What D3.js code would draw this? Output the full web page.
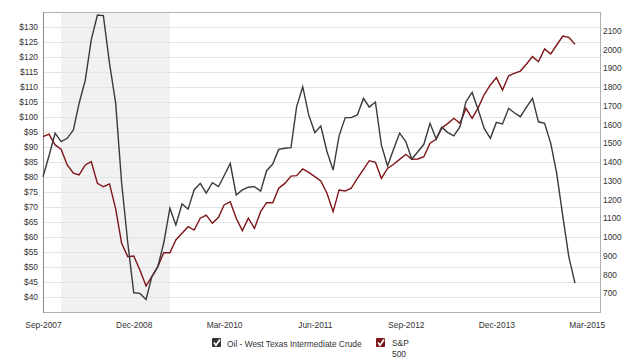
<!DOCTYPE html>
<html>
<head>
<meta charset="utf-8">
<title>Oil vs S&amp;P 500</title>
<script src="https://cdn.jsdelivr.net/npm/d3@7"></script>
<style>
  body { margin: 0; background: #fff; }
  svg { display: block; font-family: "Liberation Sans", Arial, sans-serif; }
  .axis text { font-size: 8.4px; fill: #333; }
  .axis path, .axis line { display: none; }
  .legend text { font-size: 8.4px; fill: #333; }
</style>
</head>
<body>
<script>
// monthly values, Sep-2007 .. Jan-2015
const startMonth = "2007-09";
const oil = [80.1, 87, 94.6, 91.8, 92.9, 95.7, 104.6, 112.3, 125.7, 134,
  133.8, 117.9, 104.6, 78, 58, 41.4, 41.2, 39.2, 46.5, 50,
  58, 69.6, 64, 71, 69.3, 75.7, 77.9, 74.6, 78.1, 76.8,
  80.4, 84.5, 74, 75.7, 76.6, 76.8, 75.3, 82.1, 84.3, 89.2,
  89.6, 89.8, 103.4, 110.1, 100.7, 94.8, 97, 88.5, 82.3, 93.7,
  99.8, 99.8, 100.7, 106.2, 103.3, 105, 90.7, 83.7, 89.2, 94.6,
  91.8, 86, 88.4, 90.9, 97.9, 92.7, 96.6, 94.8, 93.7, 96.8,
  105.1, 108.2, 102.3, 96.2, 92.9, 98.2, 97.7, 102.9, 101.4, 100.1,
  103.2, 106.2, 98.4, 97.9, 91.2, 81.2, 66.8, 53.4, 44.6];
const sp500 = [1535, 1549, 1491, 1468, 1384, 1340, 1331, 1384, 1402, 1286,
  1268, 1283, 1150, 966, 895, 899, 824, 739, 788, 842,
  916, 916, 984, 1020, 1055, 1037, 1100, 1117, 1073, 1105,
  1171, 1188, 1100, 1034, 1100, 1046, 1135, 1183, 1183, 1260,
  1286, 1325, 1327, 1363, 1345, 1322, 1299, 1233, 1135, 1251,
  1245, 1260, 1313, 1361, 1407, 1398, 1313, 1366, 1388, 1414,
  1441, 1414, 1416, 1428, 1500, 1521, 1580, 1606, 1633, 1606,
  1686, 1633, 1690, 1760, 1811, 1850, 1784, 1860, 1873, 1885,
  1921, 1962, 1935, 2003, 1976, 2024, 2072, 2065, 2028];
const xTicks = ["2007-09", "2008-12", "2010-03", "2011-06", "2012-09", "2013-12", "2015-03"];
const recession = ["2007-12", "2009-06"];
const oilTicks = d3.range(40, 131, 5);
const spTicks = d3.range(700, 2101, 100);
const seriesNames = ["Oil - West Texas Intermediate Crude", "S&P", "500"];

const width = 640, height = 362;
const mLeft = 43, mRight = 600, mTop = 12, mBottom = 312;

const parseMonth = d3.timeParse("%Y-%m");
const fmt = d3.timeFormat("%b-%Y");
const start = parseMonth(startMonth);
const months = oil.map((d, i) => d3.timeMonth.offset(start, i));

const svg = d3.select("body").append("svg")
  .attr("width", width).attr("height", height);

const x = d3.scaleTime()
  .domain([start, new Date(2015, 4, 7)])
  .range([mLeft, mRight]);
const yOil = d3.scaleLinear().domain([35, 135]).range([mBottom, mTop]);
const ySp = d3.scaleLinear().domain([600, 2200]).range([mBottom, mTop]);

// recession band
svg.append("rect")
  .attr("x", x(parseMonth(recession[0])))
  .attr("y", mTop)
  .attr("width", x(parseMonth(recession[1])) - x(parseMonth(recession[0])))
  .attr("height", mBottom - mTop)
  .attr("fill", "#f1f1f1");

// gridlines
svg.append("g").selectAll("line")
  .data(oilTicks)
  .enter().append("line")
  .attr("x1", mLeft).attr("x2", mRight)
  .attr("y1", d => Math.round(yOil(d)) + 0.5)
  .attr("y2", d => Math.round(yOil(d)) + 0.5)
  .attr("stroke", "#e4e4e4");

// frame
svg.append("rect")
  .attr("x", mLeft + 0.5).attr("y", mTop + 0.5)
  .attr("width", mRight - mLeft).attr("height", mBottom - mTop)
  .attr("fill", "none").attr("stroke", "#b0b0b0");
svg.append("line")
  .attr("x1", mLeft + 0.5).attr("x2", mLeft + 0.5)
  .attr("y1", mTop).attr("y2", mBottom + 1)
  .attr("stroke", "#888");

// axes
svg.append("g").attr("class", "axis")
  .attr("transform", "translate(" + (mLeft - 2) + ",0)")
  .call(d3.axisLeft(yOil).tickValues(oilTicks).tickSize(0).tickFormat(d => "$" + d));

svg.append("g").attr("class", "axis")
  .attr("transform", "translate(" + mRight + ",0)")
  .call(d3.axisRight(ySp).tickValues(spTicks).tickSize(0).tickFormat(d3.format("d")));

svg.append("g").attr("class", "axis")
  .attr("transform", "translate(0," + (mBottom + 7) + ")")
  .call(d3.axisBottom(x).tickValues(xTicks.map(parseMonth)).tickSize(0).tickFormat(fmt));

// lines
const oilLine = d3.line().x((d, i) => x(months[i])).y(d => yOil(d));
const spLine = d3.line().x((d, i) => x(months[i])).y(d => ySp(d));

svg.append("path").datum(sp500)
  .attr("d", spLine)
  .attr("fill", "none").attr("stroke", "#7d1417").attr("stroke-width", 1.4);

svg.append("path").datum(oil)
  .attr("d", oilLine)
  .attr("fill", "none").attr("stroke", "#3a3a3a").attr("stroke-width", 1.4);

// legend
const legend = svg.append("g").attr("class", "legend");
function checkbox(px, py, color) {
  legend.append("rect")
    .attr("x", px).attr("y", py).attr("width", 9).attr("height", 9)
    .attr("rx", 1).attr("fill", color);
  legend.append("path")
    .attr("d", "M" + (px + 2) + "," + (py + 4.5) + " L" + (px + 4) + "," + (py + 7.2) +
      " L" + (px + 8) + "," + (py + 1.5))
    .attr("fill", "none").attr("stroke", "#fff").attr("stroke-width", 1.8);
}
checkbox(212, 338, "#333");
legend.append("text").attr("x", 227).attr("y", 347).text(seriesNames[0]);
checkbox(376, 338, "#7d1417");
legend.append("text").attr("x", 392).attr("y", 346).text(seriesNames[1]);
legend.append("text").attr("x", 392).attr("y", 357).text(seriesNames[2]);
</script>
</body>
</html>
